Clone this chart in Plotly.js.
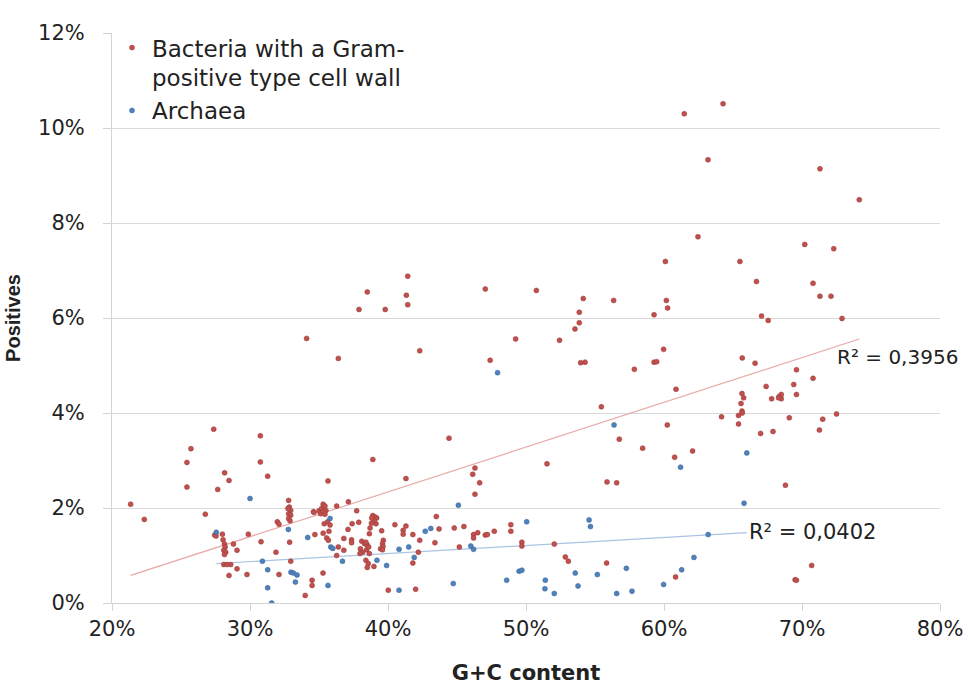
<!DOCTYPE html>
<html>
<head>
<meta charset="utf-8">
<script src="https://cdn.plot.ly/plotly-3.0.1.min.js"></script>
<style>html,body{margin:0;padding:0;background:#fff;}#chart{width:970px;height:687px;}</style>
</head>
<body>
<div id="chart"></div>
<script>
// G+C content (%) and positives (%)
var bacteriaGC = [21.35,22.34,25.43,25.43,25.72,26.76,27.37,27.66,28.16,28.48,27.44,27.54,28.0,28.05,28.15,28.2,28.1,28.24,28.15,28.8,29.06,28.1,28.33,28.6,28.48,29.06,29.78,29.88,30.75,30.75,31.28,30.8,31.88,32.1,31.98,32.1,32.8,32.85,32.95,32.8,32.95,32.8,32.9,32.75,32.87,32.95,34.0,34.5,34.5,35.29,34.6,34.7,35.65,34.1,36.4,34.64,35.0,35.12,35.19,35.3,35.43,35.5,35.3,35.43,35.38,35.63,35.8,35.3,35.72,35.56,35.68,36.28,37.13,37.73,36.4,36.8,36.28,36.8,37.36,37.36,37.1,37.4,37.88,38.0,38.16,37.97,38.45,38.65,38.1,38.3,38.5,38.6,38.4,38.4,38.57,38.5,38.98,38.65,38.7,38.8,39.13,38.9,39.06,39.18,38.98,38.82,39.54,39.66,39.6,39.64,39.46,39.6,38.9,40.02,40.5,41.3,41.1,41.1,41.8,42.3,42.2,41.8,42.0,43.4,43.5,43.7,44.8,45.5,45.17,41.3,44.42,46.3,46.14,46.64,46.3,46.2,46.2,46.5,47.05,47.2,47.7,48.9,48.9,49.7,49.7,51.52,52.05,52.85,53.07,55.84,60.84,55.46,55.87,56.57,56.76,58.45,60.24,60.77,62.07,60.87,57.85,59.28,59.47,59.97,59.28,60.17,60.26,60.1,56.35,54.15,53.86,53.86,53.55,52.43,53.96,54.28,49.25,47.4,47.05,50.75,42.3,41.43,41.33,41.43,38.5,37.9,39.8,61.47,64.28,63.19,71.3,74.15,62.46,70.2,72.3,65.5,66.7,70.8,71.3,72.1,67.07,67.55,72.9,65.67,66.6,69.6,70.8,67.4,69.4,69.6,67.8,68.35,68.5,68.5,68.3,65.65,65.77,65.58,65.65,65.67,65.4,65.4,64.17,67.0,67.9,69.08,71.5,72.5,71.26,68.8,70.7,69.5,69.6];
var bacteriaPos = [2.08,1.76,2.96,2.44,3.25,1.87,3.66,2.39,2.74,2.58,1.43,1.41,1.45,1.33,1.24,1.18,1.11,1.07,1.02,1.24,1.11,0.81,0.81,0.81,0.58,0.72,0.60,1.45,3.52,2.97,2.67,1.29,1.07,0.60,1.71,1.66,2.16,2.02,1.95,1.88,1.85,1.78,1.73,1.99,1.28,0.88,0.16,0.48,0.37,0.63,1.92,1.44,2.57,5.57,5.15,1.91,1.94,1.88,1.99,2.08,2.04,1.95,1.92,1.87,1.67,1.71,1.64,1.47,1.51,1.37,1.32,2.04,2.13,1.94,1.18,1.11,1.00,1.36,1.33,1.27,1.55,1.67,1.70,1.14,1.07,1.04,1.12,1.04,1.30,1.25,1.22,1.18,1.28,0.90,0.83,0.75,0.77,1.46,1.58,1.68,1.67,1.84,1.81,1.79,1.74,1.79,1.52,1.32,1.25,1.19,1.14,1.12,3.02,0.27,1.65,1.62,1.53,1.45,1.44,1.32,1.07,0.84,0.29,1.27,1.82,1.56,1.58,1.61,1.18,2.62,3.47,2.84,2.71,2.53,2.29,1.44,1.37,1.48,1.43,1.44,1.51,1.65,1.51,1.28,1.20,2.93,1.24,0.97,0.88,0.84,0.55,4.13,2.55,2.53,3.45,3.26,3.75,3.07,3.20,4.50,4.92,5.07,5.08,5.34,6.07,6.37,6.21,7.19,6.37,6.41,6.12,5.90,5.77,5.53,5.06,5.07,5.56,5.11,6.61,6.58,5.31,6.88,6.48,6.28,6.55,6.18,6.18,10.30,10.51,9.33,9.14,8.49,7.71,7.55,7.46,7.19,6.77,6.73,6.46,6.46,6.04,5.95,5.99,5.16,5.05,4.91,4.73,4.56,4.60,4.39,4.30,4.35,4.39,4.30,4.32,4.41,4.32,4.20,4.04,4.00,3.95,3.77,3.92,3.57,3.61,3.90,3.87,3.98,3.64,2.48,0.79,0.49,0.48];
var archaeaGC = [30.0,27.56,30.9,31.28,31.28,31.57,32.78,34.18,32.97,33.14,33.41,33.29,35.65,35.8,35.85,36.0,36.7,39.2,39.9,40.8,40.8,41.5,41.9,42.7,43.1,44.73,45.1,46.0,46.2,47.94,48.6,49.5,49.7,50.05,51.4,51.37,52.05,53.57,53.77,54.57,54.67,55.17,56.57,57.27,57.68,56.38,59.97,61.28,62.17,61.2,63.2,65.8,66.0];
var archaeaPos = [2.20,1.49,0.88,0.70,0.32,0.00,1.55,1.38,0.65,0.63,0.59,0.44,0.37,1.78,1.18,1.15,0.88,0.90,0.79,0.27,1.13,1.18,0.96,1.51,1.57,0.41,2.06,1.20,1.13,4.85,0.48,0.67,0.69,1.71,0.48,0.30,0.20,0.63,0.36,1.75,1.61,0.60,0.20,0.73,0.25,3.75,0.39,0.70,0.96,2.86,1.44,2.10,3.16];
var seriesNames = ["Bacteria with a Gram-<br>positive type cell wall", "Archaea"];
var r2Labels = ["R² = 0,3956", "R² = 0,0402"];
var xTicks = [20,30,40,50,60,70,80];
var yTicks = [0,2,4,6,8,10,12];

function linFit(xs, ys){
  var n = xs.length, sx=0, sy=0, sxx=0, sxy=0;
  for (var i=0;i<n;i++){ sx+=xs[i]; sy+=ys[i]; sxx+=xs[i]*xs[i]; sxy+=xs[i]*ys[i]; }
  var b = (n*sxy - sx*sy)/(n*sxx - sx*sx);
  var a = (sy - b*sx)/n;
  var x0 = Math.min.apply(null, xs), x1 = Math.max.apply(null, xs);
  return {x:[x0,x1], y:[a+b*x0, a+b*x1]};
}
var fitB = linFit(bacteriaGC, bacteriaPos);
var fitA = linFit(archaeaGC, archaeaPos);

var textFont = "DejaVu Sans, Arial, sans-serif";
var data = [
  {x: fitB.x, y: fitB.y, mode:'lines', line:{color:'#E8A9A8', width:1.2}, showlegend:false, hoverinfo:'skip'},
  {x: fitA.x, y: fitA.y, mode:'lines', line:{color:'#A9C4E4', width:1.2}, showlegend:false, hoverinfo:'skip'},
  {x: bacteriaGC, y: bacteriaPos, mode:'markers', name: seriesNames[0],
   marker:{color:'#C0504D', size:5, line:{color:'#9B3B38', width:0.5}}},
  {x: archaeaGC, y: archaeaPos, mode:'markers', name: seriesNames[1],
   marker:{color:'#4F81BD', size:5, line:{color:'#3A6595', width:0.5}}}
];

var layout = {
  width: 970, height: 687,
  margin: {l:112, r:30, t:33, b:84},
  paper_bgcolor:'#fff', plot_bgcolor:'#fff',
  font: {family: textFont, color:'#222'},
  showlegend: true,
  legend: {x:0.0, y:1.012, xanchor:'left', yanchor:'top', bgcolor:'rgba(0,0,0,0)', valign:'top',
           font:{family:textFont, size:23, color:'#222'}, itemwidth:30, tracegroupgap:0},
  xaxis: {range:[20,80], tickvals:xTicks, ticktext:xTicks.map(function(v){return v+'%';}),
          showgrid:false, zeroline:false, showline:true, linecolor:'#D4D4D4', linewidth:1,
          ticks:'outside', ticklen:7, tickcolor:'#D4D4D4', ticklabelstandoff:0,
          tickfont:{family:textFont, size:21, color:'#222'},
          title:{text:'<b>G+C content</b>', font:{family:textFont, size:21, color:'#222'}, standoff:25},
          fixedrange:true},
  yaxis: {range:[0,12], tickvals:yTicks, ticktext:yTicks.map(function(v){return v+'%';}),
          showgrid:true, gridcolor:'#D9D9D9', gridwidth:1, zeroline:false,
          showline:true, linecolor:'#D4D4D4', linewidth:1,
          ticks:'outside', ticklen:8, tickcolor:'#D4D4D4', ticklabelstandoff:14,
          tickfont:{family:textFont, size:21, color:'#222'},
          title:{text:'<b>Positives</b>', font:{family:'Liberation Sans, Arial, sans-serif', size:20, color:'#222'}, standoff:12},
          fixedrange:true},
  annotations: [
    {x:72.4, y:5.17, xref:'x', yref:'y', xanchor:'left', yanchor:'middle', showarrow:false,
     text:r2Labels[0], font:{family:textFont, size:20, color:'#222'}},
    {x:66.0, y:1.49, xref:'x', yref:'y', xanchor:'left', yanchor:'middle', showarrow:false,
     text:r2Labels[1], font:{family:textFont, size:21, color:'#222'}}
  ]
};
Plotly.newPlot('chart', data, layout, {displayModeBar:false, staticPlot:true});
</script>
</body>
</html>
